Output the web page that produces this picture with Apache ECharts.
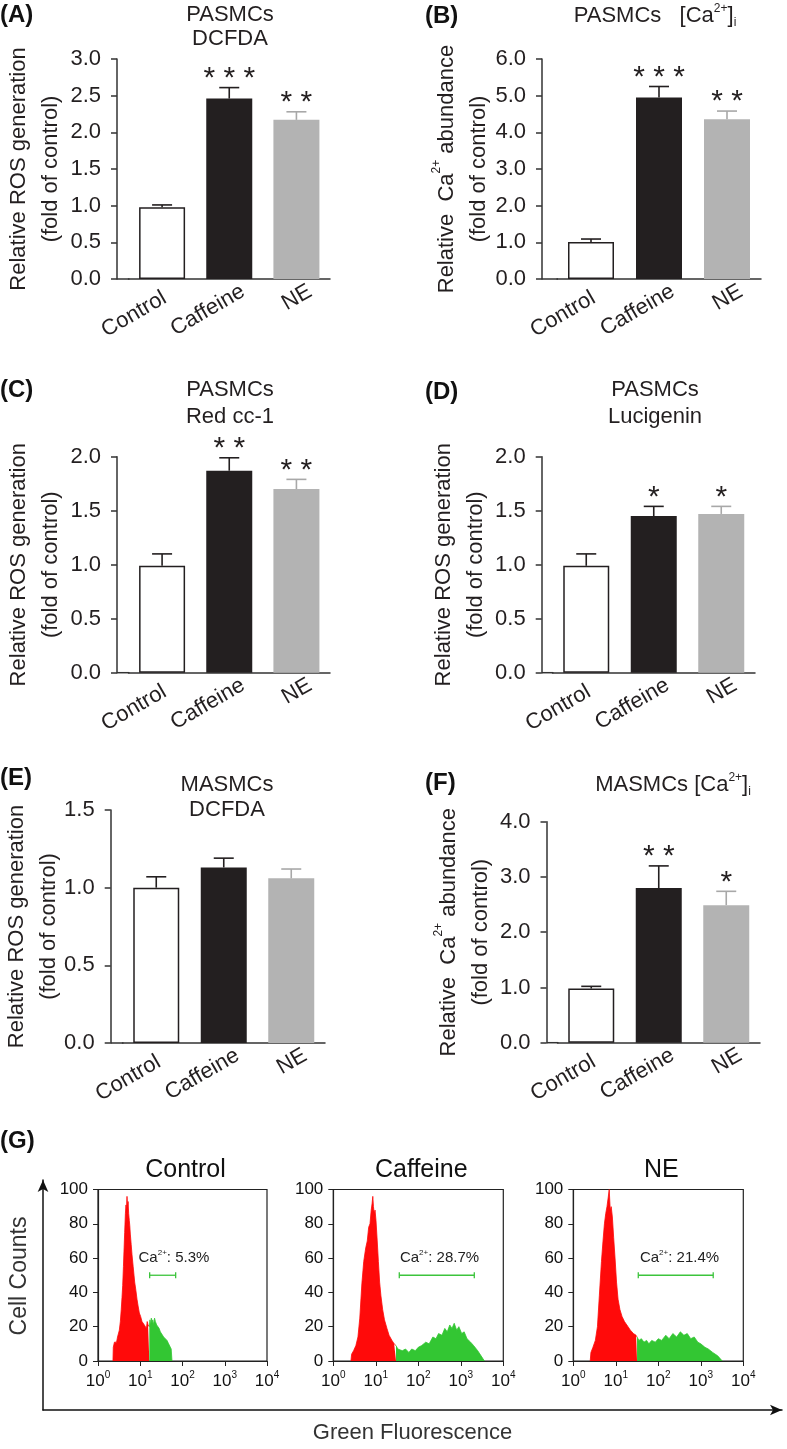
<!DOCTYPE html>
<html><head><meta charset="utf-8">
<script src="https://cdn.jsdelivr.net/npm/echarts@6/dist/echarts.min.js"></script>
<style>html,body{margin:0;padding:0;background:#fff}#c{width:787px;height:1449px}</style>
</head><body><div id="c"></div>
<script>
// ---------- DATA ----------
const categories = ['Control', 'Caffeine', 'NE'];

const valuesA = [0.98, 2.46, 2.17]; const errA = [0.03, 0.15, 0.11]; const sigA = ['', '* * *', '* *'];
const valuesB = [1.01, 4.95, 4.36]; const errB = [0.08, 0.30, 0.22]; const sigB = ['', '* * *', '* *'];
const valuesC = [0.99, 1.87, 1.70]; const errC = [0.11, 0.12, 0.09]; const sigC = ['', '* *', '* *'];
const valuesD = [0.99, 1.45, 1.47]; const errD = [0.11, 0.09, 0.07]; const sigD = ['', '*', '*'];
const valuesE = [1.00, 1.13, 1.06]; const errE = [0.07, 0.06, 0.06]; const sigE = ['', '', ''];
const valuesF = [0.98, 2.80, 2.49]; const errF = [0.04, 0.40, 0.25]; const sigF = ['', '* *', '*'];

const yTicksAB = { A: [0, 3.0, 0.5], B: [0, 6.0, 1.0], C: [0, 2.0, 0.5], D: [0, 2.0, 0.5], E: [0, 1.5, 0.5], F: [0, 4.0, 1.0] };

// flow cytometry histograms: [green fluorescence, cell count]
const ctrlRed = [[2.26,0],[2.3,8],[2.45,11],[2.6,12],[2.75,11],[2.9,14],[3.05,13],[3.2,18],[3.38,23],[3.55,30],[3.7,37],[3.84,44],[4.0,55],[4.15,66],[4.28,75],[4.45,86],[4.6,91],[4.72,88],[4.86,96],[5.0,90],[5.15,93],[5.32,86],[5.5,82],[5.65,79],[5.82,74],[6.1,68],[6.38,62],[6.8,55],[7.38,46],[7.9,41],[8.38,36],[8.9,32],[9.51,28],[10.2,26],[11.0,23],[11.8,24],[12.5,21],[13.2,22],[14.0,19],[14.6,23],[15.3,21],[16.4,20]];
const ctrlGreen = [[16.4,20],[17.0,24],[17.6,21],[18.3,25],[19.0,22],[19.8,24],[20.8,21],[21.8,25],[22.8,23],[24.5,21],[26.3,20],[28,19],[29.9,17],[32.5,16],[35.8,14],[39,13],[43,12],[47,10],[51.5,9],[54,7],[56.4,0]];
const cafRed = [[2.6,0],[2.7,4],[3.0,6],[3.4,9],[3.8,14],[4.2,25],[4.7,45],[5.2,58],[5.8,66],[6.3,70],[6.8,78],[7.3,80],[7.8,88],[8.2,92],[8.5,96],[8.8,90],[9.2,86],[9.6,88],[10.1,82],[10.8,70],[11.5,58],[12.3,46],[13.2,38],[14.5,30],[16.0,24],[18.3,19],[20.5,15],[24,12],[27,10],[29.9,9]];
const cafGreen = [[29.9,9],[33,7],[36,8],[42,6],[50,7],[60,5],[70,7],[85,6],[100,8],[120,9],[150,11],[180,10],[220,14],[260,13],[300,16],[360,15],[420,19],[480,17],[550,21],[620,19],[700,22],[800,18],[900,20],[1050,16],[1200,17],[1400,13],[1700,11],[2000,9],[2500,6],[3000,3],[3600,0]];
const neRed = [[2.5,0],[2.6,5],[2.9,8],[3.3,12],[3.7,20],[4.1,38],[4.6,58],[5.0,70],[5.4,80],[5.8,86],[6.2,90],[6.6,95],[7.0,100],[7.4,88],[7.8,90],[8.3,84],[8.9,72],[9.6,60],[10.4,46],[11.3,36],[12.5,30],[14.0,26],[16.0,23],[19.4,20],[22,18],[26,16],[30,15],[31.6,14]];
const neGreen = [[31.6,14],[35,12],[40,13],[46,11],[53,12],[60,10],[70,12],[85,11],[100,13],[120,12],[150,15],[180,13],[220,16],[270,14],[330,17],[400,15],[480,16],[580,13],[700,14],[850,11],[1000,10],[1250,8],[1500,7],[1900,5],[2500,3],[3200,0]];

// gate: [from, to, level, label left position], label text
const gates = [[16.7, 68.9, 50, 9.1], [35.7, 2078, 50, 37], [33.8, 1960, 50, 37]];
const gateLabels = ['5.3%', '28.7%', '21.4%'];
const histTitles = ['Control', 'Caffeine', 'NE'];

// ---------- STYLE / LAYOUT ----------
const FONT = '"Liberation Sans", Arial, Helvetica, sans-serif';
const TXT = '#231f20';
const AX = '#333333';
const barStyles = [
  { color: '#ffffff', borderColor: '#231f20', borderWidth: 1.5 },
  { color: '#231f20' },
  { color: '#b3b3b3' }
];
const errColors = ['#231f20', '#231f20', '#a8a8a8'];
// per-category label nudges (along the rotated baseline)
const catLabelPad = [[0, -3, 0, 0], [0, -16, 0, 0], [0, -16, 0, 0]];

const rosName = '{a|Relative ROS generation}\n{a|(fold of control)}';
const caName = '{a|Relative  Ca}{sup|2+}{a| abundance}\n{a|(fold of control)}';

const barPanels = [
  { k: 'A', vals: valuesA, errs: errA, sig: sigA, axisX: 117, left: 128.5, right: 330, top: 59, bottom: 279, name: rosName, gap: 50 },
  { k: 'B', vals: valuesB, errs: errB, sig: sigB, axisX: 542, left: 557, right: 761, top: 59, bottom: 279, name: caName, gap: 47 },
  { k: 'C', vals: valuesC, errs: errC, sig: sigC, axisX: 117, left: 128.5, right: 330, top: 456.7, bottom: 672.7, name: rosName, gap: 50 },
  { k: 'D', vals: valuesD, errs: errD, sig: sigD, axisX: 541.7, left: 552.5, right: 755, top: 456.7, bottom: 672.7, name: rosName, gap: 50 },
  { k: 'E', vals: valuesE, errs: errE, sig: sigE, axisX: 110.7, left: 122.5, right: 325, top: 810, bottom: 1043, name: rosName, gap: 45 },
  { k: 'F', vals: valuesF, errs: errF, sig: sigF, axisX: 546.5, left: 557.5, right: 760, top: 821.7, bottom: 1042.7, name: caName, gap: 50 }
];
const histLayout = [
  { left: 98, right: 267 },
  { left: 333.3, right: 503.3 },
  { left: 573.3, right: 743.3 }
];
const histTop = 1189.5, histBottom = 1361;

const richName = {
  a: { fontSize: 22, lineHeight: 32, fontFamily: FONT, color: TXT, fontWeight: 'normal' },
  sup: { fontSize: 12, verticalAlign: 'top', fontFamily: FONT, color: TXT, fontWeight: 'normal' }
};

const grid = [], xAxis = [], yAxis = [], series = [];

barPanels.forEach((p, i) => {
  const t = yTicksAB[p.k];
  grid.push({ left: p.left, top: p.top, width: p.right - p.left, height: p.bottom - p.top, containLabel: false });
  xAxis.push({
    gridIndex: i, type: 'category',
    data: categories.map((c, j) => ({ value: c, textStyle: { padding: catLabelPad[j] } })),
    axisLine: { show: true, lineStyle: { color: AX, width: 1.5 } },
    axisTick: { show: false },
    axisLabel: { rotate: 30, fontSize: 22, color: TXT, fontFamily: FONT, margin: 19, interval: 0 },
    splitLine: { show: false }
  });
  yAxis.push({
    gridIndex: i, type: 'value', min: t[0], max: t[1], interval: t[2],
    offset: p.left - p.axisX,
    axisLine: { show: true, lineStyle: { color: AX, width: 1.5 } },
    axisTick: { show: true, length: 6, lineStyle: { color: AX, width: 1.5 } },
    axisLabel: { fontSize: 22, color: TXT, fontFamily: FONT, margin: 16, formatter: v => v.toFixed(1) },
    splitLine: { show: false },
    name: p.name, nameLocation: 'middle', nameRotate: 90, nameGap: p.gap,
    nameTextStyle: { rich: richName, align: 'center' }
  });
  series.push({
    type: 'bar', xAxisIndex: i, yAxisIndex: i, barWidth: 46, silent: true,
    data: p.vals.map((v, j) => ({ value: v, itemStyle: barStyles[j] }))
  });
  series.push({
    type: 'custom', xAxisIndex: i, yAxisIndex: i, silent: true, z: 5,
    data: p.vals.map((v, j) => [categories[j], v, p.errs[j]]),
    encode: { x: 0, y: 1 },
    renderItem: (params, api) => {
      const j = params.dataIndex;
      const v = api.value(1), e = api.value(2);
      const p0 = api.coord([j, v]);
      const p1 = api.coord([j, v + e]);
      const col = errColors[j];
      const ch = [
        { type: 'line', shape: { x1: p0[0], y1: p0[1], x2: p1[0], y2: p1[1] }, style: { stroke: col, lineWidth: 1.6 } },
        { type: 'line', shape: { x1: p1[0] - 10, y1: p1[1], x2: p1[0] + 10, y2: p1[1] }, style: { stroke: col, lineWidth: 1.6 } }
      ];
      if (p.sig[j]) ch.push({ type: 'text', style: { text: p.sig[j], x: p1[0], y: p1[1] + 6, align: 'center', verticalAlign: 'bottom', fontSize: 30, fontFamily: FONT, fill: TXT } });
      return { type: 'group', children: ch };
    }
  });
});

const histData = [[ctrlRed, ctrlGreen], [cafRed, cafGreen], [neRed, neGreen]];
histLayout.forEach((h, k) => {
  const i = barPanels.length + k;
  grid.push({ left: h.left, top: histTop, width: h.right - h.left, height: histBottom - histTop, show: true, borderColor: '#222', borderWidth: 1.2, backgroundColor: 'transparent' });
  xAxis.push({
    gridIndex: i, type: 'log', logBase: 10, min: 1, max: 10000,
    axisLine: { show: true, lineStyle: { color: '#222', width: 1.2 } },
    axisTick: { show: true, length: 5, lineStyle: { color: '#222' } },
    minorTick: { show: false },
    axisLabel: {
      margin: 9, color: '#111', fontFamily: FONT,
      formatter: v => '{b|10}{s|' + Math.round(Math.log10(v)) + '}',
      rich: { b: { fontSize: 17, fontFamily: FONT, color: '#111', lineHeight: 22 }, s: { fontSize: 10, verticalAlign: 'top', fontFamily: FONT, color: '#111' } }
    },
    splitLine: { show: false }
  });
  yAxis.push({
    gridIndex: i, type: 'value', min: 0, max: 100, interval: 20,
    axisLine: { show: true, lineStyle: { color: '#222', width: 1.2 } },
    axisTick: { show: true, length: 5, lineStyle: { color: '#222' } },
    axisLabel: { fontSize: 17, color: '#111', fontFamily: FONT, margin: 10 },
    splitLine: { show: false }
  });
  series.push({
    type: 'line', xAxisIndex: i, yAxisIndex: i, data: histData[k][0], symbol: 'none', silent: true,
    lineStyle: { color: '#ff0a0a', width: 0.8 }, areaStyle: { color: '#ff0a0a', opacity: 1 }
  });
  series.push({
    type: 'line', xAxisIndex: i, yAxisIndex: i, data: histData[k][1], symbol: 'none', silent: true,
    lineStyle: { color: '#33c633', width: 0.8 }, areaStyle: { color: '#33c633', opacity: 1 }
  });
  series.push({
    type: 'custom', xAxisIndex: i, yAxisIndex: i, silent: true, z: 6,
    data: [gates[k]], encode: { x: [0, 1], y: 2 },
    renderItem: (params, api) => {
      const a = api.coord([api.value(0), api.value(2)]);
      const b = api.coord([api.value(1), api.value(2)]);
      const l = api.coord([api.value(3), 60]);
      const G = '#3cc43c';
      return { type: 'group', children: [
        { type: 'line', shape: { x1: a[0], y1: a[1], x2: b[0], y2: b[1] }, style: { stroke: G, lineWidth: 1.3 } },
        { type: 'line', shape: { x1: a[0], y1: a[1] - 3, x2: a[0], y2: a[1] + 3 }, style: { stroke: G, lineWidth: 1.3 } },
        { type: 'line', shape: { x1: b[0], y1: b[1] - 3, x2: b[0], y2: b[1] + 3 }, style: { stroke: G, lineWidth: 1.3 } },
        { type: 'text', style: {
          text: '{a|Ca}{s|2+}{a|: ' + gateLabels[k] + '}', x: l[0], y: l[1], align: 'left', verticalAlign: 'middle',
          rich: { a: { fontSize: 15, fontFamily: FONT, fill: '#222', color: '#222', lineHeight: 18 }, s: { fontSize: 8, fontFamily: FONT, verticalAlign: 'top', fill: '#222', color: '#222' } }
        } }
      ] };
    }
  });
});

// outer axes of panel G
const oi = barPanels.length + histLayout.length;
grid.push({ left: 43, top: 1180, width: 739, height: 230 });
xAxis.push({
  gridIndex: oi, type: 'value', min: 0, max: 1,
  axisLine: { show: true, symbol: ['none', 'arrow'], symbolSize: [8, 12], lineStyle: { color: '#111', width: 1.5 } },
  axisTick: { show: false }, axisLabel: { show: false }, splitLine: { show: false },
  name: 'Green Fluorescence', nameLocation: 'middle', nameGap: 12,
  nameTextStyle: { fontSize: 22, color: '#333', fontFamily: FONT }
});
yAxis.push({
  gridIndex: oi, type: 'value', min: 0, max: 1,
  axisLine: { show: true, symbol: ['none', 'arrow'], symbolSize: [8, 12], lineStyle: { color: '#111', width: 1.5 } },
  axisTick: { show: false }, axisLabel: { show: false }, splitLine: { show: false },
  name: 'Cell Counts', nameLocation: 'middle', nameRotate: 90, nameGap: 12,
  nameTextStyle: { fontSize: 23, color: '#333', fontFamily: FONT, padding: [0, 0, 0, 38] }
});

// titles
const richTitle = {
  a: { fontSize: 22, fontFamily: FONT, color: TXT, lineHeight: 26, fontWeight: 'normal' },
  sup: { fontSize: 12, fontFamily: FONT, color: TXT, verticalAlign: 'top', fontWeight: 'normal' },
  sub: { fontSize: 12, fontFamily: FONT, color: TXT, verticalAlign: 'bottom', fontWeight: 'normal' }
};
const title = [];
const letters = [['(A)', 0, 3], ['(B)', 425, 4], ['(C)', 0, 378], ['(D)', 425, 380], ['(E)', 0, 766], ['(F)', 425, 771], ['(G)', 0, 1129]];
letters.forEach(l => title.push({ text: l[0], left: l[1], top: l[2], padding: 0, textStyle: { fontSize: 24, fontWeight: 'bold', color: '#111', fontFamily: FONT } }));
const ptitles = [
  ['PASMCs\nDCFDA', 230, 3, 24],
  ['PASMCs\nRed cc-1', 230, 376.5, 27],
  ['PASMCs\nLucigenin', 655, 376.5, 27],
  ['MASMCs\nDCFDA', 227, 772.5, 25]
];
ptitles.forEach(t => title.push({ text: t[0], left: t[1], top: t[2], padding: 0, textAlign: 'center', textStyle: { fontSize: 22, lineHeight: t[3], fontWeight: 'normal', color: TXT, fontFamily: FONT } }));
title.push({ text: '{a|PASMCs   [Ca}{sup|2+}{a|]}{sub|i}', left: 655, top: 3, padding: 0, textAlign: 'center', textStyle: { fontWeight: 'normal', fontFamily: FONT, rich: richTitle } });
title.push({ text: '{a|MASMCs [Ca}{sup|2+}{a|]}{sub|i}', left: 673, top: 772, padding: 0, textAlign: 'center', textStyle: { fontWeight: 'normal', fontFamily: FONT, rich: richTitle } });
histTitles.forEach((t, k) => {
  const h = histLayout[k];
  title.push({ text: t, left: (h.left + h.right) / 2 + 3, top: 1158, padding: 0, textAlign: 'center', textStyle: { fontSize: 25, fontWeight: 'normal', color: '#111', fontFamily: FONT } });
});

const chart = echarts.init(document.getElementById('c'), null, { renderer: 'canvas' });
chart.setOption({ animation: false, backgroundColor: '#fff', title, grid, xAxis, yAxis, series });

// extend the x-axis baseline from the offset y-axis to the category band
const ext = barPanels.map((p, i) => {
  const y0 = chart.convertToPixel({ yAxisIndex: i }, 0);
  return { type: 'line', silent: true, shape: { x1: p.axisX, y1: y0, x2: p.left + 1, y2: y0 }, style: { stroke: AX, lineWidth: 1.5 } };
});
chart.setOption({ graphic: ext });
</script>
</body></html>
